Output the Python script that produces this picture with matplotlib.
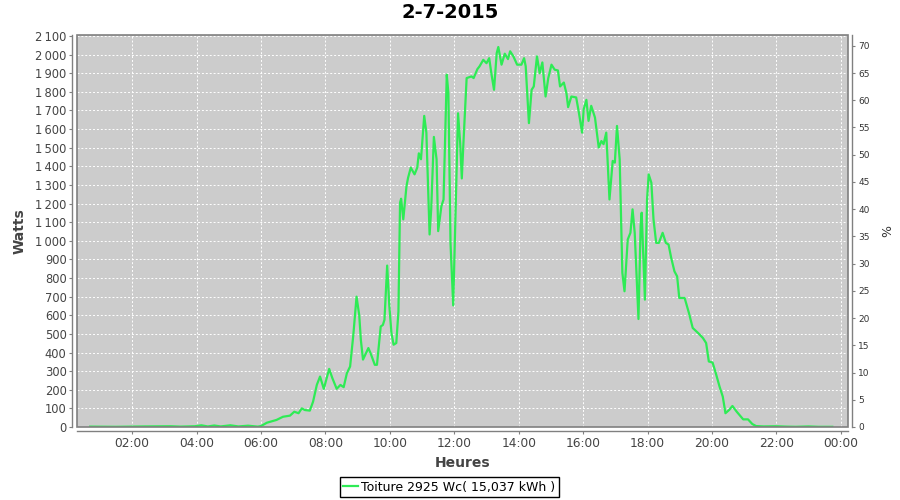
import matplotlib
matplotlib.use('Agg')
import matplotlib.pyplot as plt
from matplotlib.patches import Rectangle
from matplotlib.ticker import FuncFormatter, MultipleLocator

# readings of the day: time of day and power in watts
times = [
    '00:42', '01:30', '02:24', '03:12', '03:30', '03:57', '04:09', '04:21', '04:33', '04:45',
    '05:03', '05:18', '05:36', '05:54', '06:00', '06:11', '06:29', '06:41', '06:54', '07:02',
    '07:10', '07:16', '07:22', '07:31', '07:37', '07:44', '07:50', '07:57', '08:07', '08:13',
    '08:21', '08:28', '08:34', '08:40', '08:46', '08:52', '08:58', '09:03', '09:06', '09:10',
    '09:20', '09:24', '09:32', '09:36', '09:43', '09:47', '09:50', '09:55', '09:59', '10:03',
    '10:07', '10:12', '10:16', '10:19', '10:21', '10:25', '10:31', '10:34', '10:39', '10:46',
    '10:51', '10:54', '10:58', '11:04', '11:08', '11:14', '11:17', '11:22', '11:27', '11:30',
    '11:36', '11:40', '11:46', '11:49', '11:53', '11:58', '12:03', '12:07', '12:11', '12:14',
    '12:17', '12:23', '12:32', '12:36', '12:43', '12:47', '12:54', '13:00', '13:05', '13:09',
    '13:14', '13:19', '13:22', '13:28', '13:34', '13:40', '13:44', '13:50', '13:57', '14:05',
    '14:10', '14:13', '14:19', '14:24', '14:28', '14:34', '14:39', '14:44', '14:50', '14:55',
    '15:01', '15:07', '15:13', '15:17', '15:24', '15:29', '15:32', '15:38', '15:47', '15:52',
    '15:58', '16:01', '16:06', '16:10', '16:15', '16:22', '16:29', '16:34', '16:38', '16:43',
    '16:49', '16:55', '16:59', '17:03', '17:08', '17:13', '17:17', '17:23', '17:28', '17:32',
    '17:36', '17:43', '17:47', '17:49', '17:55', '17:59', '18:02', '18:07', '18:11', '18:16',
    '18:21', '18:28', '18:34', '18:39', '18:44', '18:50', '18:55', '18:59', '19:05', '19:09',
    '19:17', '19:24', '19:34', '19:43', '19:49', '19:54', '20:01', '20:07', '20:14', '20:20',
    '20:25', '20:32', '20:38', '20:46', '20:58', '21:07', '21:15', '21:22', '21:36', '22:00',
    '22:18', '22:36', '23:00', '23:18', '23:44',
]
watts = [
    2, 1, 3, 4, 2, 4, 9, 3, 8, 3,
    9, 3, 7, 2, 5, 23, 38, 55, 61, 82,
    74, 100, 91, 88, 136, 226, 271, 205, 312, 262,
    205, 226, 214, 289, 325, 495, 700, 600, 468, 362,
    424, 397, 334, 334, 540, 548, 576, 867, 652, 504,
    442, 451, 621, 1205, 1226, 1115, 1294, 1339, 1393, 1357,
    1393, 1470, 1438, 1671, 1581, 1034, 1169, 1558, 1438, 1052,
    1186, 1222, 1892, 1793, 985, 653, 1219, 1685, 1524, 1335,
    1524, 1874, 1883, 1874, 1922, 1937, 1972, 1954, 1981, 1900,
    1811, 2008, 2041, 1946, 2005, 1976, 2018, 1991, 1946, 1946,
    1981, 1937, 1632, 1811, 1829, 1991, 1900, 1958, 1775, 1874,
    1946, 1919, 1915, 1829, 1850, 1790, 1718, 1775, 1770, 1689,
    1581, 1707, 1757, 1644, 1725, 1662, 1501, 1536, 1519, 1581,
    1222, 1429, 1420, 1617, 1438, 828, 729, 1007, 1043, 1169,
    1043, 580, 1079, 1151, 684, 1222, 1357, 1312, 1115, 989,
    989, 1043, 989, 980, 908, 836, 809, 693, 693, 693,
    612, 532, 505, 478, 451, 352, 346, 289, 217, 163,
    74, 92, 113, 82, 41, 41, 16, 5, 3, 4,
    2, 1, 3, 1, 1,
]

title = '2-7-2015'
peak_power = 2925
legend_label = 'Toiture 2925 Wc( 15,037 kWh )'
hour_ticks = list(range(2, 25, 2))

GREEN = '#2EEB55'
GRAY = '#808080'
TEXT = '#444444'


def to_hours(stamp):
    hh, mm = stamp.split(':')
    return int(hh) + int(mm) / 60.0


def watt_label(value, pos):
    value = int(round(value))
    if value >= 1000:
        return '{}\u2009{:03d}'.format(value // 1000, value % 1000)
    return str(value)


hours = [to_hours(t) for t in times]

fig = plt.figure(figsize=(9, 5), dpi=100)
ax = fig.add_axes([77 / 900, 1 - 427 / 500, (848 - 77) / 900, (427 - 34.7) / 500])
ax.set_facecolor('#CCCCCC')

ax.plot(hours, watts, color=GREEN, linewidth=1.6, label=legend_label, zorder=3)

ymax = 2107
ax.set_xlim(0.29, 24.22)
ax.set_ylim(0, ymax)

ax.set_xticks(hour_ticks)
ax.set_xticklabels(['{:02d}:00'.format(h % 24) for h in hour_ticks])
ax.yaxis.set_major_locator(MultipleLocator(100))
ax.yaxis.set_major_formatter(FuncFormatter(watt_label))

ax.grid(True, color='white', linestyle=(0, (2, 2)), linewidth=0.7)
ax.set_axisbelow(True)

ax2 = ax.twinx()
ax2.set_ylim(0, ymax / peak_power * 100)
ax2.yaxis.set_major_locator(MultipleLocator(5))

for a in (ax, ax2):
    for side in ('top',):
        a.spines[side].set_visible(False)
    for sp in a.spines.values():
        sp.set_color(GRAY)
        sp.set_linewidth(1.0)
ax.spines['right'].set_visible(False)
ax2.spines['left'].set_visible(False)
ax2.spines['bottom'].set_visible(False)
ax.spines['left'].set_position(('outward', 3.5))
ax.spines['bottom'].set_position(('outward', 3))
ax2.spines['right'].set_position(('outward', 3))

ax.tick_params(axis='x', colors=GRAY, labelcolor=TEXT, labelsize=8.8, length=2.5, pad=2)
ax.tick_params(axis='y', colors=GRAY, labelcolor=TEXT, labelsize=8.3, length=2.5, pad=1.5)
ax2.tick_params(axis='y', colors=GRAY, labelcolor='#333333', labelsize=6.5, length=2.5, pad=2)

# plot area frame
ax.add_patch(Rectangle((0, 0), 1, 1, transform=ax.transAxes, fill=False,
                       edgecolor=GRAY, linewidth=1.2, zorder=5, clip_on=False))

ax.set_xlabel('Heures', fontsize=10, fontweight='bold', color=TEXT, labelpad=4)
ax.set_ylabel('Watts', fontsize=10, fontweight='bold', color=TEXT, labelpad=6)
ax2.set_ylabel('%', fontsize=9, color='#333333', labelpad=8)

fig.text(0.5, 0.975, title, ha='center', va='center', fontsize=14, fontweight='bold')

fig.legend(loc='center', bbox_to_anchor=(0.499, 0.026), fontsize=9, handlelength=1.2,
           handletextpad=0.2, borderpad=0.3, fancybox=False, edgecolor='black',
           framealpha=1, borderaxespad=0)
fig.legends[0].get_frame().set_linewidth(1.0)

fig.savefig('out.png', dpi=100, facecolor='white')
